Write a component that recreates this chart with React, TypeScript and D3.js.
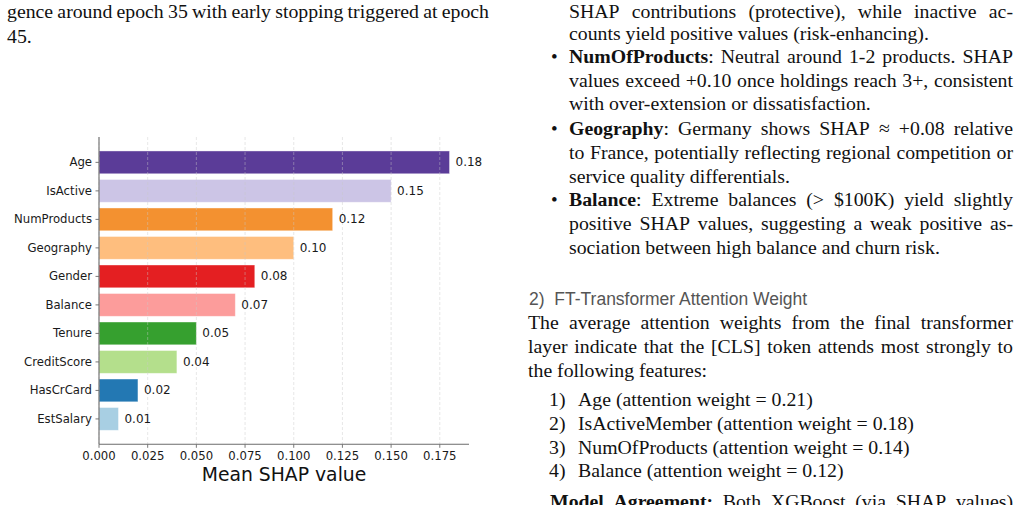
import { useEffect, useRef } from 'react'
import * as d3 from 'd3'

// Mean |SHAP| per feature, in plotted order (top to bottom)
const FEATURES = ['Age', 'IsActive', 'NumProducts', 'Geography', 'Gender', 'Balance', 'Tenure', 'CreditScore', 'HasCrCard', 'EstSalary']
const SHAP_VALUES = [0.18, 0.15, 0.12, 0.10, 0.08, 0.07, 0.05, 0.04, 0.02, 0.01]
const BAR_COLORS = ['#5b3c98', '#ccc5e6', '#f39130', '#febe7e', '#e41f22', '#fc9c9b', '#36a02f', '#b4df8c', '#2378b3', '#a8cfe3']
const X_TICKS = [0, 0.025, 0.05, 0.075, 0.1, 0.125, 0.15, 0.175]
const X_LABEL = 'Mean SHAP value'

type Seg = { t: string; b?: boolean }
type Line = { x0: number; x1: number; y: number; justify: boolean; segs: Seg[]; mark?: string; markX?: number }

const SERIF = '"Liberation Serif", "Times New Roman", serif'
const SANS = '"DejaVu Sans", sans-serif'
const BODY_SIZE = 19.8

const R0 = 569
const R1 = 1013
const PAGE_LINES: Line[] = [
  { x0: 7, x1: 489, y: 18, justify: true, segs: [{ t: 'gence around epoch 35 with early stopping triggered at epoch' }] },
  { x0: 7, x1: 489, y: 42.5, justify: false, segs: [{ t: '45.' }] },

  { x0: R0, x1: R1, y: 17.5, justify: true, segs: [{ t: 'SHAP contributions (protective), while inactive ac-' }] },
  { x0: R0, x1: R1, y: 39.5, justify: false, segs: [{ t: 'counts yield positive values (risk-enhancing).' }] },
  { x0: R0, x1: R1, y: 63, justify: true, mark: '•', markX: 551, segs: [{ t: 'NumOfProducts', b: true }, { t: ': Neutral around 1-2 products. SHAP' }] },
  { x0: R0, x1: R1, y: 86.5, justify: true, segs: [{ t: 'values exceed +0.10 once holdings reach 3+, consistent' }] },
  { x0: R0, x1: R1, y: 110, justify: false, segs: [{ t: 'with over-extension or dissatisfaction.' }] },
  { x0: R0, x1: R1, y: 135, justify: true, mark: '•', markX: 551, segs: [{ t: 'Geography', b: true }, { t: ': Germany shows SHAP ≈ +0.08 relative' }] },
  { x0: R0, x1: R1, y: 158.5, justify: true, segs: [{ t: 'to France, potentially reflecting regional competition or' }] },
  { x0: R0, x1: R1, y: 182.5, justify: false, segs: [{ t: 'service quality differentials.' }] },
  { x0: R0, x1: R1, y: 206, justify: true, mark: '•', markX: 551, segs: [{ t: 'Balance', b: true }, { t: ': Extreme balances (> $100K) yield slightly' }] },
  { x0: R0, x1: R1, y: 230, justify: true, segs: [{ t: 'positive SHAP values, suggesting a weak positive as-' }] },
  { x0: R0, x1: R1, y: 254, justify: false, segs: [{ t: 'sociation between high balance and churn risk.' }] },

  { x0: 528, x1: R1, y: 328.5, justify: true, segs: [{ t: 'The average attention weights from the final transformer' }] },
  { x0: 528, x1: R1, y: 352.5, justify: true, segs: [{ t: 'layer indicate that the [CLS] token attends most strongly to' }] },
  { x0: 528, x1: R1, y: 376.5, justify: false, segs: [{ t: 'the following features:' }] },
  { x0: 578, x1: R1, y: 405.5, justify: false, mark: '1)', markX: 549, segs: [{ t: 'Age (attention weight = 0.21)' }] },
  { x0: 578, x1: R1, y: 429.5, justify: false, mark: '2)', markX: 549, segs: [{ t: 'IsActiveMember (attention weight = 0.18)' }] },
  { x0: 578, x1: R1, y: 453.5, justify: false, mark: '3)', markX: 549, segs: [{ t: 'NumOfProducts (attention weight = 0.14)' }] },
  { x0: 578, x1: R1, y: 477, justify: false, mark: '4)', markX: 549, segs: [{ t: 'Balance (attention weight = 0.12)' }] },
  { x0: 550, x1: R1, y: 507.5, justify: true, segs: [{ t: 'Model Agreement:', b: true }, { t: ' Both XGBoost (via SHAP values)' }] },
]

// plot frame
const LEFT = 99
const RIGHT = 469
const TOP = 137
const BOTTOM = 444.3

function splitWords(segs: Seg[]): Seg[][] {
  const words: Seg[][] = []
  let cur: Seg[] = []
  segs.forEach(s => {
    s.t.split(' ').forEach((p, k) => {
      if (k > 0) {
        if (cur.length) words.push(cur)
        cur = []
      }
      if (p) cur.push({ t: p, b: s.b })
    })
  })
  if (cur.length) words.push(cur)
  return words
}

export default function App() {
  const textRef = useRef<SVGGElement>(null)

  const x = d3.scaleLinear().domain([0, 0.19]).range([LEFT, RIGHT])
  const y = d3.scaleLinear().domain([-0.89, FEATURES.length - 0.11]).range([TOP, BOTTOM])
  const half = 0.4

  useEffect(() => {
    if (!textRef.current) return
    const g = d3.select(textRef.current)
    g.selectAll('*').remove()

    PAGE_LINES.forEach(line => {
      if (line.mark) {
        g.append('text')
          .attr('x', line.markX!)
          .attr('y', line.y)
          .attr('font-family', SERIF)
          .attr('font-size', line.mark === '•' ? 19 : BODY_SIZE)
          .attr('fill', '#111')
          .text(line.mark)
      }
      // lay out word by word so justified lines can be spread to the column edge
      const words = splitWords(line.segs)
      const nodes = words.map(w => {
        const t = g.append('text')
          .attr('y', line.y)
          .attr('font-family', SERIF)
          .attr('font-size', BODY_SIZE)
          .attr('fill', '#111')
        w.forEach(s => t.append('tspan').attr('font-weight', s.b ? 'bold' : 'normal').text(s.t))
        return t
      })
      const widths = nodes.map(n => (n.node() as SVGTextElement).getComputedTextLength())
      const total = d3.sum(widths)
      const gap = line.justify && nodes.length > 1
        ? (line.x1 - line.x0 - total) / (nodes.length - 1)
        : BODY_SIZE * 0.25
      let cx = line.x0
      nodes.forEach((n, i) => {
        n.attr('x', cx)
        cx += widths[i] + gap
      })
    })

    g.append('text')
      .attr('x', 529)
      .attr('y', 304.5)
      .attr('font-family', '"Liberation Sans", Arial, sans-serif')
      .attr('font-size', 17.5)
      .attr('fill', '#555')
      .attr('xml:space', 'preserve')
      .text('2)  FT-Transformer Attention Weight')
  }, [])

  return (
    <svg width={1019} height={505} style={{ position: 'absolute', left: 0, top: 0, background: '#fff' }}>
      <g>
        {FEATURES.map((f, i) => (
          <rect
            key={f}
            x={x(0)}
            y={y(i - half)}
            width={x(SHAP_VALUES[i]) - x(0)}
            height={y(i + half) - y(i - half)}
            fill={BAR_COLORS[i]}
            stroke="#fff"
            strokeWidth={0.8}
            strokeOpacity={0.5}
          />
        ))}
        {X_TICKS.map(t => (
          <line
            key={`g${t}`}
            x1={x(t)}
            x2={x(t)}
            y1={TOP}
            y2={BOTTOM}
            stroke="#c8c8c8"
            strokeOpacity={0.55}
            strokeWidth={0.8}
            strokeDasharray="3,2"
          />
        ))}
        <line x1={LEFT} x2={LEFT} y1={TOP} y2={BOTTOM} stroke="#6b6b6b" strokeWidth={1.1} />
        <line x1={LEFT} x2={RIGHT} y1={BOTTOM} y2={BOTTOM} stroke="#6b6b6b" strokeWidth={1.1} />
        {FEATURES.map((f, i) => (
          <g key={`yt${f}`}>
            <line x1={LEFT - 3.5} x2={LEFT} y1={y(i)} y2={y(i)} stroke="#6b6b6b" strokeWidth={0.9} />
            <text
              x={LEFT - 7}
              y={y(i)}
              textAnchor="end"
              dominantBaseline="central"
              fontFamily={SANS}
              fontSize={11.7}
              fill="#1a1a1a"
            >
              {f}
            </text>
            <text
              x={x(SHAP_VALUES[i]) + 6}
              y={y(i)}
              dominantBaseline="central"
              fontFamily={SANS}
              fontSize={12}
              fill="#1a1a1a"
            >
              {SHAP_VALUES[i].toFixed(2)}
            </text>
          </g>
        ))}
        {X_TICKS.map(t => (
          <g key={`xt${t}`}>
            <line x1={x(t)} x2={x(t)} y1={BOTTOM} y2={BOTTOM + 3.5} stroke="#6b6b6b" strokeWidth={0.9} />
            <text
              x={x(t)}
              y={460}
              textAnchor="middle"
              fontFamily={SANS}
              fontSize={11.7}
              fill="#1a1a1a"
            >
              {t.toFixed(3)}
            </text>
          </g>
        ))}
        <text
          x={(LEFT + RIGHT) / 2}
          y={481}
          textAnchor="middle"
          fontFamily={SANS}
          fontSize={18.8}
          fill="#111"
        >
          {X_LABEL}
        </text>
      </g>
      <g ref={textRef} />
    </svg>
  )
}
